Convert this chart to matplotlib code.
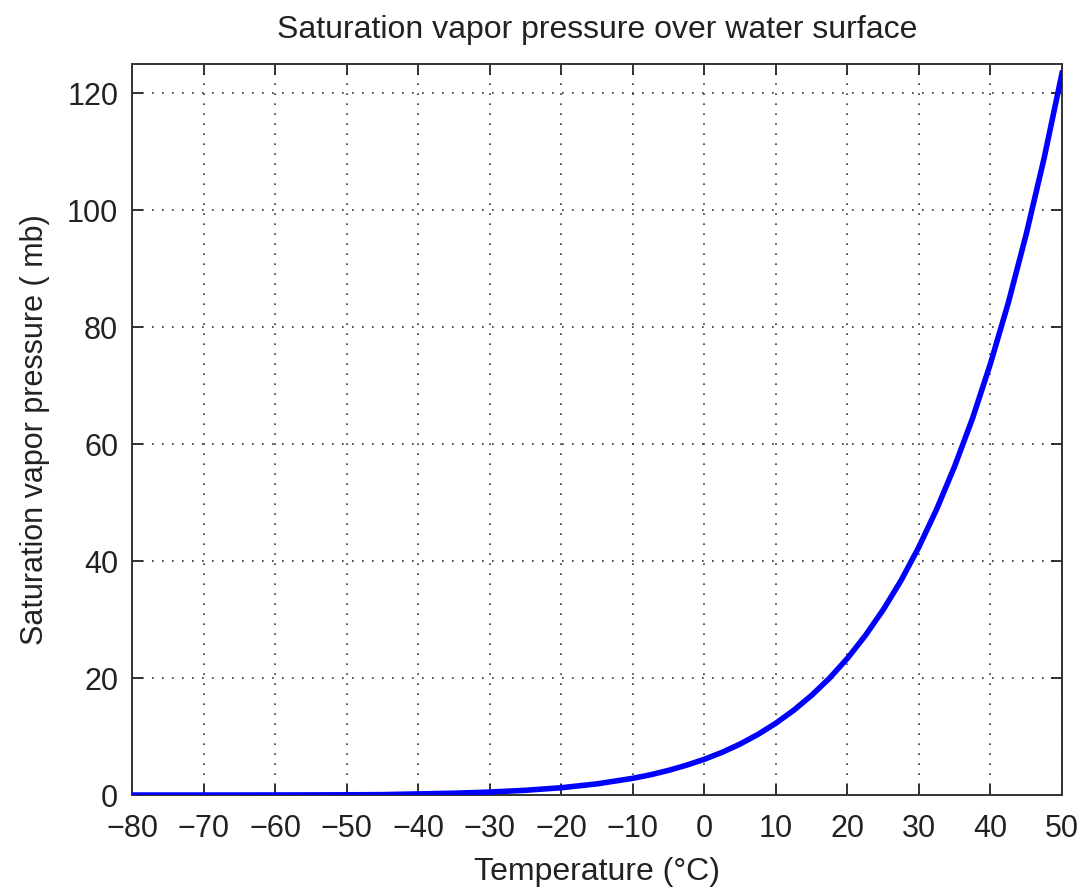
import numpy as np
import matplotlib
matplotlib.use('Agg')
import matplotlib.pyplot as plt

# Temperature (degC) and saturation vapor pressure (mb)
temps = [-80, -75, -70, -65, -60, -55, -50, -45, -40, -35, -30, -25, -20, -15,
         -10, -7.5, -5, -2.5, 0, 2.5, 5, 7.5, 10, 12.5, 15, 17.5, 20, 22.5,
         25, 27.5, 30, 32.5, 35, 37.5, 40, 42.5, 45, 47.5, 50]
pressures = [0.0005, 0.0012, 0.0026, 0.0054, 0.011, 0.021, 0.039, 0.072, 0.19,
             0.31, 0.51, 0.81, 1.25, 1.91, 2.86, 3.47, 4.22, 5.10, 6.11, 7.31,
             8.72, 10.37, 12.28, 14.50, 17.05, 19.98, 23.37, 27.26, 31.67,
             36.68, 42.43, 48.93, 56.24, 64.43, 73.78, 84.2, 95.9, 108.9, 123.4]

xTicks = list(range(-80, 51, 10))
yTicks = list(range(0, 121, 20))

plt.rcParams['font.family'] = ['Liberation Sans', 'DejaVu Sans']
fontSize = 22

fig = plt.figure(figsize=(10.85, 8.94), dpi=100)
ax = fig.add_axes([0.1217, 0.1107, 0.8571, 0.8177])

ax.plot(temps, pressures, color='#0000ff', linewidth=4.0, zorder=3)

ax.set_xlim(-80, 50)
ax.set_ylim(0, 125)
ax.set_xticks(xTicks)
ax.set_yticks(yTicks)
ax.set_xticklabels([str(t).replace('-', '\u2212') for t in xTicks], fontsize=fontSize)
ax.set_yticklabels([str(t) for t in yTicks], fontsize=fontSize)
ax.tick_params(direction='in', length=8, width=1.3, top=True, right=True,
               colors='#222222', labelcolor='#222222')
ax.tick_params(axis='x', pad=14)
ax.tick_params(axis='y', pad=10)

ax.grid(True, color='#333333', linestyle=(0, (1, 5)), linewidth=1.2)
ax.set_axisbelow(True)
for spine in ax.spines.values():
  spine.set_linewidth(1.4)
  spine.set_color('#333333')

ax.set_xlabel('Temperature (\u00b0C)', fontsize=23, color='#222222', labelpad=9)
ax.set_ylabel('Saturation vapor pressure ( mb)', fontsize=fontSize, color='#222222', labelpad=12)
ax.set_title('Saturation vapor pressure over water surface', fontsize=23,
             color='#222222', pad=19)

plt.savefig('out.png', dpi=100)
